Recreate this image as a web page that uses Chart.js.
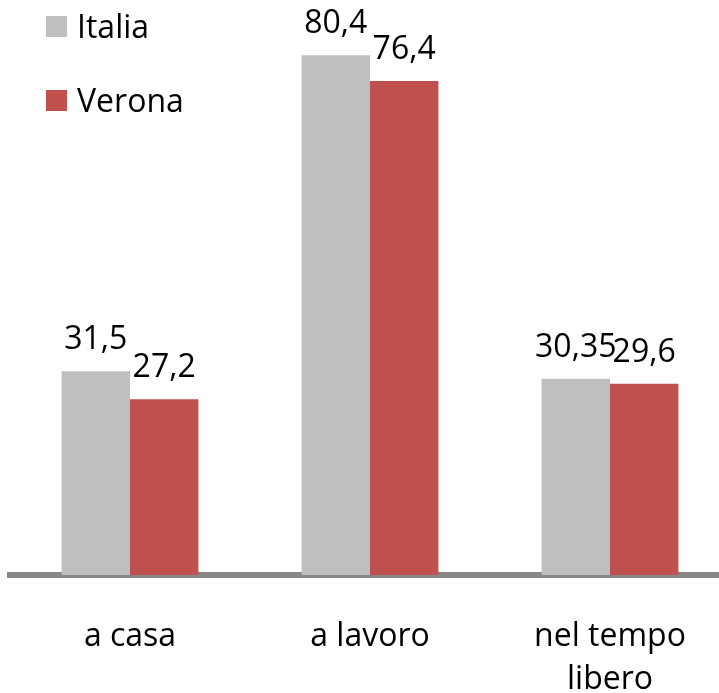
<!DOCTYPE html>
<html>
<head>
<meta charset="utf-8">
<script src="https://cdn.jsdelivr.net/npm/chart.js@4.4.1/dist/chart.umd.min.js"></script>
<style>
  html, body { margin: 0; padding: 0; background: #fff; overflow: hidden; }
  #wrap { width: 740px; height: 693px; }
</style>
</head>
<body>
<div id="wrap"><canvas id="chart"></canvas></div>
<script>
const CATEGORIES = ['a casa', 'a lavoro', ['nel tempo', 'libero']];
const ITALIA = [31.5, 80.4, 30.35];
const VERONA = [27.2, 76.4, 29.6];
const ITALIA_LABELS = ['31,5', '80,4', '30,35'];
const VERONA_LABELS = ['27,2', '76,4', '29,6'];

const FONT = '"Open Sans", sans-serif';
const FONT_SIZE = 32;

// value labels above each bar
const valueLabels = {
    id: 'valueLabels',
    afterDatasetsDraw(chart) {
        const ctx = chart.ctx;
        ctx.save();
        ctx.font = `${FONT_SIZE}px ${FONT}`;
        ctx.fillStyle = '#000';
        ctx.textAlign = 'center';
        ctx.textBaseline = 'alphabetic';
        chart.data.datasets.forEach((ds, i) => {
            const meta = chart.getDatasetMeta(i);
            meta.data.forEach((bar, j) => {
                ctx.fillText(ds.valueLabels[j], bar.x, bar.y - 22);
            });
        });
        ctx.restore();
    }
};

// vertical legend in the top-left corner
const sideLegend = {
    id: 'sideLegend',
    afterDraw(chart) {
        const ctx = chart.ctx;
        ctx.save();
        ctx.font = `${FONT_SIZE}px ${FONT}`;
        ctx.textBaseline = 'middle';
        ctx.textAlign = 'left';
        chart.data.datasets.forEach((ds, i) => {
            const cy = 26.5 + i * 74;
            ctx.fillStyle = ds.backgroundColor;
            ctx.fillRect(46, cy - 10.5, 21, 21);
            ctx.fillStyle = '#000';
            ctx.fillText(ds.label, 77, cy + 2);
        });
        ctx.restore();
    }
};

new Chart(document.getElementById('chart'), {
    type: 'bar',
    data: {
        labels: CATEGORIES,
        datasets: [
            { label: 'Italia', data: ITALIA, valueLabels: ITALIA_LABELS, backgroundColor: '#BFBFBF' },
            { label: 'Verona', data: VERONA, valueLabels: VERONA_LABELS, backgroundColor: '#C0504D' }
        ]
    },
    options: {
        responsive: true,
        maintainAspectRatio: false,
        animation: false,
        layout: { padding: { top: 25.5, left: 10, right: 10, bottom: 0 } },
        datasets: { bar: { barPercentage: 1, categoryPercentage: 0.57, borderWidth: 0 } },
        plugins: {
            legend: { display: false },
            tooltip: { enabled: false }
        },
        scales: {
            x: {
                grid: { display: false, drawTicks: false },
                border: { display: true, color: '#878787', width: 6 },
                ticks: {
                    color: '#000',
                    padding: 40,
                    font: { family: FONT, size: FONT_SIZE, lineHeight: 1.35 }
                },
                afterFit(scale) { scale.height = 118; }
            },
            y: {
                display: false,
                min: 0,
                max: 85
            }
        }
    },
    plugins: [valueLabels, sideLegend]
});
</script>
</body>
</html>
